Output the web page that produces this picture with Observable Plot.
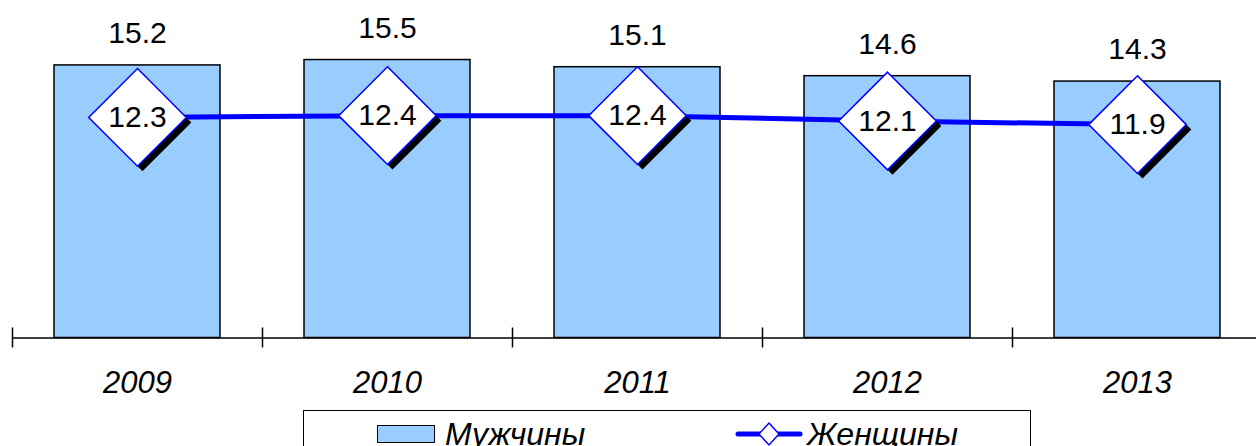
<!DOCTYPE html>
<html>
<head>
<meta charset="utf-8">
<script src="https://cdn.jsdelivr.net/npm/d3@7"></script>
<script src="https://cdn.jsdelivr.net/npm/@observablehq/plot@0.6"></script>
<style>
  html, body { margin: 0; padding: 0; background: #fff; overflow: hidden; width: 1256px; height: 446px; }
  #chart svg { display: block; }
  .legend {
    position: absolute; left: 303px; top: 410px; width: 728px; height: 60px;
    border: 1.5px solid #000; box-sizing: border-box; background: #fff;
    font-family: "Liberation Sans", Arial, sans-serif; font-style: italic; font-size: 32px; color: #000;
  }
  .legend .item { position: absolute; top: 8px; display: flex; align-items: center; height: 30px; }
  .legend .sw { width: 58px; height: 18px; background: #99CCFF; border: 1.5px solid #000; box-sizing: border-box; margin-right: 10px; }
</style>
</head>
<body>
<div id="chart"></div>
<div class="legend">
  <div class="item" style="left:73px;"><div class="sw"></div><span>Мужчины</span></div>
  <div class="item" style="left:432px;">
    <svg width="66" height="26" style="margin-right:5px;overflow:visible">
      <line x1="2" y1="13" x2="64" y2="13" stroke="#0000FF" stroke-width="5" stroke-linecap="round"/>
      <path d="M33,2 L43,13 L33,24 L23,13 Z" fill="#fff" stroke="#0000FF" stroke-width="1.5"/>
    </svg>
    <span>Женщины</span>
  </div>
</div>
<script>
const years = ["2009", "2010", "2011", "2012", "2013"];
const men = [15.2, 15.5, 15.1, 14.6, 14.3];
const women = [12.3, 12.4, 12.4, 12.1, 11.9];

const data = years.map((year, i) => ({year, men: men[i], women: women[i]}));
const fmt = d3.format(".1f");

const chart = Plot.plot({
  width: 1256,
  height: 408,
  marginLeft: 12,
  marginRight: 0,
  marginTop: 0,
  marginBottom: 70.5,
  x: {domain: years, range: [12, 1262], paddingInner: 0.336, paddingOuter: 0.168, axis: null},
  y: {domain: [0, 18.82], axis: null},
  style: {fontFamily: "'Liberation Sans', Arial, sans-serif", background: "#fff", overflow: "visible"},
  marks: [
    Plot.barY(data, {x: "year", y: "men", fill: "#99CCFF", stroke: "#000", strokeWidth: 1.5}),
    Plot.ruleY([0], {stroke: "#000", strokeWidth: 1.5}),
    Plot.ruleX(data, {x: "year", y1: 0, y2: 0, insetTop: -10, insetBottom: -10, dx: -125, stroke: "#000", strokeWidth: 1.5}),
    Plot.text(data, {x: "year", frameAnchor: "bottom", lineAnchor: "middle", dy: 45, text: "year", fontSize: 31, fontStyle: "italic", fill: "#000"}),
    Plot.text(data, {x: "year", y: "men", dy: -32, text: d => fmt(d.men), fontSize: 30, fill: "#000"}),
    Plot.line(data, {x: "year", y: "women", stroke: "#0000FF", strokeWidth: 5}),
    Plot.dot(data, {x: "year", y: "women", symbol: "diamond2", r: 44, fill: "#000", stroke: "none", dx: 5, dy: 5}),
    Plot.dot(data, {x: "year", y: "women", symbol: "diamond2", r: 44, fill: "#fff", stroke: "#0000FF", strokeWidth: 1.5}),
    Plot.text(data, {x: "year", y: "women", text: d => fmt(d.women), fontSize: 30, fill: "#000"})
  ]
});
document.getElementById("chart").appendChild(chart);
</script>
</body>
</html>
